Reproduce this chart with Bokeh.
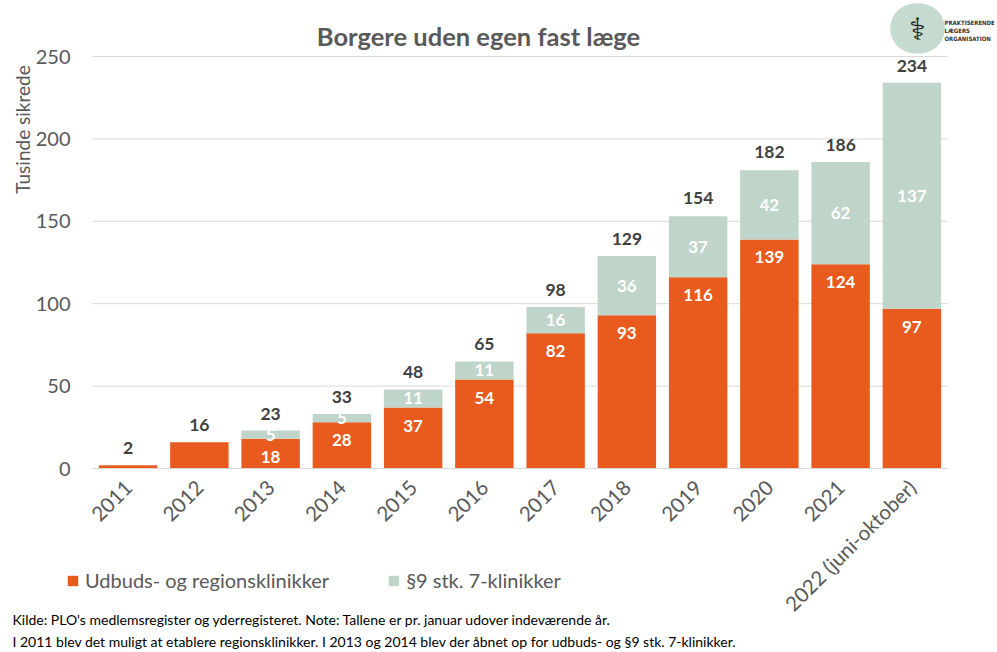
import math
from bokeh.plotting import figure
from bokeh.models import (ColumnDataSource, Label, LabelSet, Legend, LegendItem,
                          Range1d, FixedTicker)
from bokeh.core.properties import value
from bokeh.embed import file_html
from bokeh.resources import INLINE

# ---- data ----
years = ["2011", "2012", "2013", "2014", "2015", "2016", "2017", "2018",
         "2019", "2020", "2021", "2022 (juni-oktober)"]
udbud = [2, 16, 18, 28, 37, 54, 82, 93, 116, 139, 124, 97]
klinik9 = [0, 0, 5, 5, 11, 11, 16, 36, 37, 42, 62, 137]
totals = [2, 16, 23, 33, 48, 65, 98, 129, 154, 182, 186, 234]
y_ticks = [0, 50, 100, 150, 200, 250]
series_names = ["Udbuds- og regionsklinikker", "§9 stk. 7-klinikker"]

ORANGE = "#E85A1D"
GREEN = "#BFD5C9"
FONT = "Lato"

W, H = 997, 652
# plot area on the canvas (px): left, right, top(=250), bottom(=0)
FL, FR, FT, FB = 92, 947, 56, 468
n = len(years)
pxx = (FR - FL) / n                  # px per category
pxy = (FB - FT) / 250.0              # px per unit
x_start = -0.5 - FL / pxx
x_end = x_start + W / pxx
y_end = 250 + FT / pxy
y_start = y_end - H / pxy

p = figure(x_range=Range1d(x_start, x_end), y_range=Range1d(y_start, y_end),
           width=W, height=H, output_backend="svg", toolbar_location=None,
           min_border=0)
p.outline_line_color = None
p.background_fill_color = "white"
p.border_fill_color = "white"

idx = list(range(n))
top2 = [a + b for a, b in zip(udbud, klinik9)]
src = ColumnDataSource(dict(
    x=idx, udbud=udbud, klinik9=klinik9, top2=top2, total=totals,
    total_txt=[str(t) for t in totals],
))

# grid lines (limited to the bar area)
p.xgrid.visible = False
p.ygrid.visible = False
gsrc = ColumnDataSource(dict(y=y_ticks, x0=[-0.5] * len(y_ticks),
                             x1=[n - 0.5] * len(y_ticks)))
p.segment(x0="x0", x1="x1", y0="y", y1="y", source=gsrc,
          line_color="#D9D9D9", line_width=1)

r1 = p.vbar(x="x", bottom=0, top="udbud", width=0.82, source=src,
            fill_color=ORANGE, line_color=None)
r2 = p.vbar(x="x", bottom="udbud", top="top2", width=0.82, source=src,
            fill_color=GREEN, line_color=None)

# inside labels
o_idx = [i for i in range(n) if i >= 2]
src_o = ColumnDataSource(dict(x=o_idx, y=[udbud[i] for i in o_idx],
                              t=[str(udbud[i]) for i in o_idx]))
p.add_layout(LabelSet(x="x", y="y", text="t", source=src_o, y_offset=-18,
                      text_align="center", text_baseline="middle",
                      text_color="white", text_font=value(FONT),
                      text_font_style="bold", text_font_size="17px"))
g_idx = [i for i in range(n) if klinik9[i] > 0]
src_g = ColumnDataSource(dict(x=g_idx,
                              y=[udbud[i] + klinik9[i] / 2 for i in g_idx],
                              t=[str(klinik9[i]) for i in g_idx]))
p.add_layout(LabelSet(x="x", y="y", text="t", source=src_g,
                      text_align="center", text_baseline="middle",
                      text_color="white", text_font=value(FONT),
                      text_font_style="bold", text_font_size="17px"))
p.add_layout(LabelSet(x="x", y="total", text="total_txt", source=src, y_offset=17,
                      text_align="center", text_baseline="middle",
                      text_color="#404040", text_font=value(FONT),
                      text_font_style="bold", text_font_size="17.5px"))

# axes drawn at fixed locations inside the canvas-wide frame
p.yaxis.fixed_location = -0.5
p.yaxis.ticker = FixedTicker(ticks=y_ticks)
p.yaxis.axis_line_color = None
p.yaxis.major_tick_line_color = None
p.yaxis.minor_tick_line_color = None
p.yaxis.major_label_text_font = FONT
p.yaxis.major_label_text_font_size = "20px"
p.yaxis.major_label_text_color = "#595959"
p.yaxis.major_label_standoff = 16

p.xaxis.fixed_location = 0
p.xaxis.ticker = FixedTicker(ticks=idx)
p.xaxis.major_label_overrides = {i: y for i, y in zip(idx, years)}
p.xaxis.bounds = (-0.5, n - 0.5)
p.xaxis.axis_line_color = "#D9D9D9"
p.xaxis.major_tick_line_color = None
p.xaxis.minor_tick_line_color = None
p.xaxis.major_label_orientation = math.pi / 4
p.xaxis.major_label_text_font = FONT
p.xaxis.major_label_text_font_size = "20.5px"
p.xaxis.major_label_text_color = "#595959"
p.xaxis.major_label_standoff = 9


def place(text, cx, cy, **kw):
    """canvas position (top-left origin) -> screen units of the frame"""
    lab = Label(x=cx, y=H - cy, x_units="screen", y_units="screen",
                text=text, **kw)
    p.add_layout(lab)
    return lab


place("Borgere uden egen fast læge", 478, 35, text_align="center",
      text_baseline="middle", text_font=FONT, text_font_style="bold",
      text_font_size="25.5px", text_color="#595959")
place("Tusinde sikrede", 22, 129, angle=math.pi / 2, text_align="center",
      text_baseline="middle", text_font=FONT, text_font_size="19px",
      text_color="#595959")

# footnotes
place("Kilde: PLO's medlemsregister og yderregisteret. Note: Tallene er pr. januar udover indeværende  år.",
      12, 619, text_align="left", text_baseline="middle", text_font=FONT,
      text_font_size="14px", text_color="#000000")
place("I 2011 blev det muligt at etablere regionsklinikker.  I 2013 og 2014 blev der åbnet op for udbuds- og §9 stk. 7-klinikker.",
      12, 641, text_align="left", text_baseline="middle", text_font=FONT,
      text_font_size="14px", text_color="#000000")

# logo
place("⚕", 917, 28, text_align="center", text_baseline="middle",
      text_font="DejaVu Sans", text_font_size="31px", text_color="#222222",
      background_fill_color="#C6DBCF", padding=dict(x=19, y=7), border_radius=30)
place("PRAKTISERENDE\nLÆGERS\nORGANISATION", 944, 30, text_align="left",
      text_baseline="middle",
      text_font="Liberation Sans Narrow, DejaVu Sans Condensed, Roboto Condensed, Roboto",
      text_font_style="bold", text_font_size="6px", text_color="#333333")

# legend
legend = Legend(items=[LegendItem(label=series_names[0], renderers=[r1]),
                       LegendItem(label=series_names[1], renderers=[r2])],
                orientation="horizontal", location=(66, H - 592),
                glyph_width=13, glyph_height=13, label_standoff=6, spacing=58,
                padding=0, margin=0, border_line_color=None,
                background_fill_alpha=0,
                label_text_font=FONT, label_text_font_size="20px",
                label_text_color="#595959")
p.add_layout(legend, "center")

open("out.html", "w").write(file_html(p, INLINE))
